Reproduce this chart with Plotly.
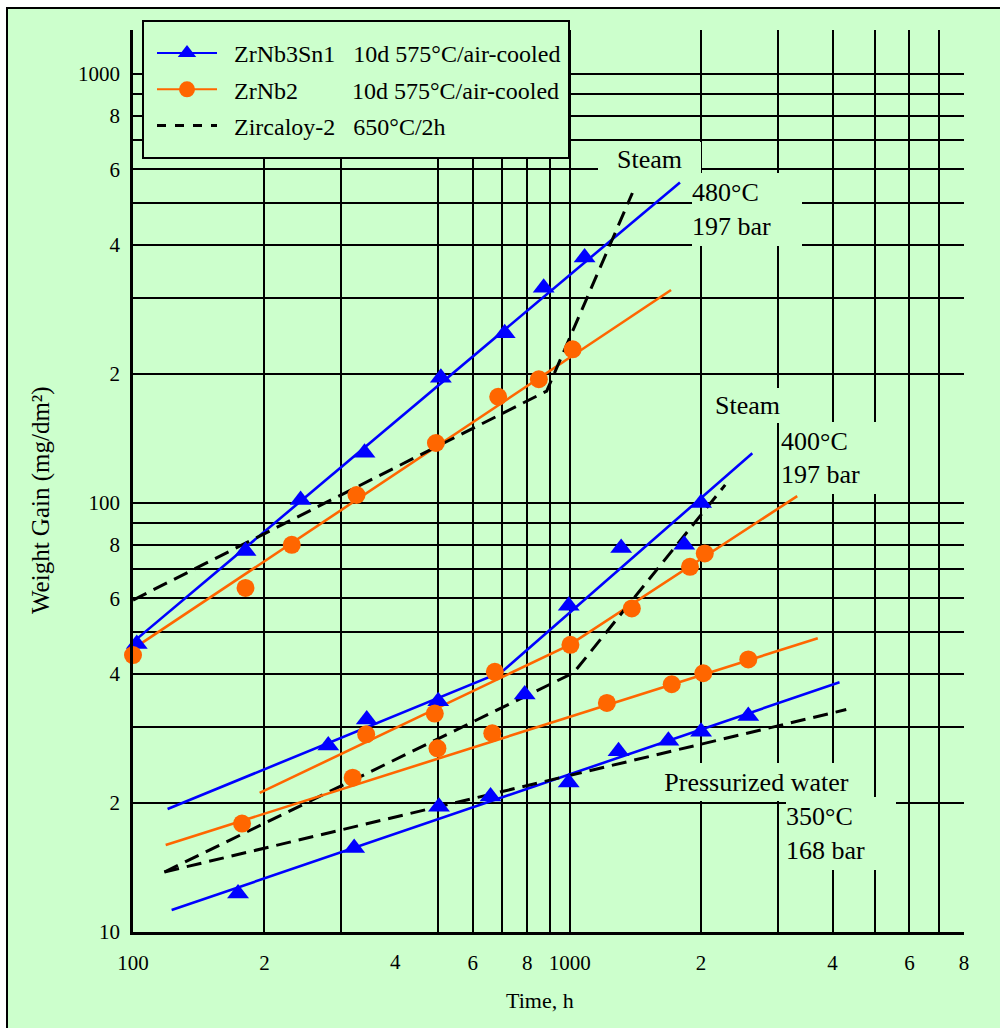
import math
import plotly.graph_objects as go

BG = "#CCFFCC"
BLUE = "#0000FF"
ORANGE = "#FF6600"
FONT = "Liberation Serif"

# ---------------- data (time in h, weight gain in mg/dm2) ----------------
# Steam, 480 °C, 197 bar
t480_zrnb3sn1 = [102, 181, 242, 339, 507, 710, 872, 1082]
w480_zrnb3sn1 = [46.9, 77.3, 101.6, 130.9, 195.8, 248.7, 317.5, 373.6]
t480_zrnb2 = [100, 181, 231, 325, 494, 686, 850, 1016]
w480_zrnb2 = [44.2, 63.4, 79.9, 104.4, 138.0, 176.9, 194.3, 228.2]
fit480_zrnb3sn1_t = [100, 1789]
fit480_zrnb3sn1_w = [47.4, 559]
fit480_zrnb2_t = [100, 1707]
fit480_zrnb2_w = [45.7, 313.7]
zry480_t = [100, 886, 1392]
zry480_w = [59.4, 182.4, 528]

# Steam, 400 °C, 197 bar
t400_zrnb3sn1 = [280, 343, 500, 789, 995, 1312, 1830, 2000]
w400_zrnb3sn1 = [27.2, 31.3, 34.5, 35.8, 57.6, 78.6, 79.9, 100]
t400_zrnb2 = [342, 491, 674, 1004, 1388, 1886, 2039]
w400_zrnb2 = [28.9, 32.3, 40.4, 46.7, 56.8, 71.0, 76.3]
fit400_zrnb3sn1_t = [120, 699, 2620]
fit400_zrnb3sn1_w = [19.35, 40.4, 130.6]
fit400_zrnb2_t = [195, 1000, 3320]
fit400_zrnb2_w = [21.1, 46.7, 103.8]
zry400_t = [118, 1021, 2271]
zry400_w = [13.8, 40.2, 110.2]

# Pressurized water, 350 °C, 168 bar
t350_zrnb3sn1 = [174, 321, 502, 659, 995, 1294, 1683, 2000, 2565]
w350_zrnb3sn1 = [12.3, 15.7, 19.6, 20.7, 22.3, 26.4, 27.9, 29.3, 31.9]
t350_zrnb2 = [177.7, 318.5, 498, 665, 1217, 1713, 2023, 2565]
w350_zrnb2 = [17.9, 22.9, 26.8, 29.06, 34.2, 37.8, 40.1, 43.2]
fit350_zrnb3sn1_t = [122.6, 4150]
fit350_zrnb3sn1_w = [11.25, 38.2]
fit350_zrnb2_t = [118.8, 3700]
fit350_zrnb2_w = [15.95, 48.4]
zry350_t = [118, 4300]
zry350_w = [13.8, 33.0]

# axes: labelled grid lines, unlabelled grid lines
x_tickvals = [100, 200, 600, 800, 1000, 2000, 4000, 6000, 8000]
x_ticktext = ["100", "2", "6", "8", "1000", "2", "4", "6", "8"]
x_minor_grid = [300, 500, 700, 900, 3000, 5000, 7000]
y_tickvals = [10, 20, 40, 60, 80, 100, 200, 400, 600, 800, 1000]
y_ticktext = ["10", "2", "4", "6", "8", "100", "2", "4", "6", "8", "1000"]
y_minor_grid = [30, 50, 70, 90, 300, 500, 700, 900]

NB = "\u00a0"
legend_names = [
    NB * 2 + "ZrNb3Sn1" + NB * 3 + "10d 575°C/air-cooled",
    NB * 2 + "ZrNb2" + NB * 9 + "10d 575°C/air-cooled",
    NB * 2 + "Zircaloy-2" + NB * 3 + "650°C/2h",
]

# ---------------- figure ----------------
W, H = 1000, 1028
ML, MR, MT, MB = 133, 36, 30, 96
PW, PH = W - ML - MR, H - MT - MB


def px(xp):
    return (xp - ML) / PW


def py(yp):
    return (H - MB - yp) / PH


fig = go.Figure()

line_w = 2.6
dash = "15px,8px"

fits = [
    (fit480_zrnb3sn1_t, fit480_zrnb3sn1_w, BLUE, "solid"),
    (fit480_zrnb2_t, fit480_zrnb2_w, ORANGE, "solid"),
    (zry480_t, zry480_w, "black", dash),
    (fit400_zrnb3sn1_t, fit400_zrnb3sn1_w, BLUE, "solid"),
    (fit400_zrnb2_t, fit400_zrnb2_w, ORANGE, "solid"),
    (zry400_t, zry400_w, "black", dash),
    (fit350_zrnb3sn1_t, fit350_zrnb3sn1_w, BLUE, "solid"),
    (fit350_zrnb2_t, fit350_zrnb2_w, ORANGE, "solid"),
    (zry350_t, zry350_w, "black", dash),
]
for xs, ys, col, d in fits:
    fig.add_trace(go.Scatter(
        x=xs, y=ys, mode="lines",
        line=dict(color=col, width=3 if col == "black" else line_w, dash=d),
        showlegend=False, hoverinfo="skip", cliponaxis=False))

points = [
    (t480_zrnb3sn1, w480_zrnb3sn1, BLUE, "triangle-up"),
    (t480_zrnb2, w480_zrnb2, ORANGE, "circle"),
    (t400_zrnb3sn1, w400_zrnb3sn1, BLUE, "triangle-up"),
    (t400_zrnb2, w400_zrnb2, ORANGE, "circle"),
    (t350_zrnb3sn1, w350_zrnb3sn1, BLUE, "triangle-up"),
    (t350_zrnb2, w350_zrnb2, ORANGE, "circle"),
]
for xs, ys, col, sym in points:
    fig.add_trace(go.Scatter(
        x=xs, y=ys, mode="markers",
        marker=dict(color=col, symbol=sym, size=19 if sym == "triangle-up" else 18,
                    line=dict(width=0)),
        showlegend=False, cliponaxis=False))

# legend entries
leg_styles = [
    dict(color=BLUE, symbol="triangle-up", dash="solid", mode="lines+markers"),
    dict(color=ORANGE, symbol="circle", dash="solid", mode="lines+markers"),
    dict(color="black", symbol="circle", dash="dash", mode="lines"),
]
for i, (name, st) in enumerate(zip(legend_names, leg_styles)):
    fig.add_trace(go.Scatter(
        x=[None], y=[None], mode=st["mode"], name=name, legendgroup=str(i),
        line=dict(color=st["color"], width=3 if st["color"] == "black" else 2, dash=st["dash"]),
        marker=dict(color=st["color"], symbol=st["symbol"], size=16)))

shapes = [
    # outer frame
    dict(type="rect", xref="paper", yref="paper", x0=px(7), x1=px(1012), y0=py(1040), y1=py(8),
         fillcolor=BG, line=dict(color="black", width=2), layer="below"),
    # legend box
    dict(type="rect", xref="paper", yref="paper", x0=px(143), x1=px(569), y0=py(158), y1=py(21),
         fillcolor=BG, line=dict(color="black", width=2), layer="above"),
]


def box(text, x0, y0, x1, y1, align="left", size=26):
    return dict(text=text, xref="paper", yref="paper", x=px(x0), y=py(y0),
                xanchor="left", yanchor="top", width=x1 - x0, height=y1 - y0,
                align=align, valign="middle", showarrow=False, bgcolor=BG,
                borderpad=0, borderwidth=0, font=dict(family=FONT, size=size, color="black"))


annotations = [
    box("Steam", 598, 142, 701, 177, align="center"),
    box("480°C<br>197 bar", 692, 173, 802, 246),
    box("Steam", 702, 388, 793, 423, align="center"),
    box("400°C<br>197 bar", 781, 422, 882, 494),
    box("Pressurized water", 650, 763, 863, 801, align="center"),
    box("350°C<br>168 bar", 786, 797, 896, 870),
    # tick label at 400 h (no grid line there in the original)
    dict(text="4", xref="x", yref="paper", x=math.log10(400), y=py(962), xanchor="center",
         yanchor="middle", showarrow=False, font=dict(family=FONT, size=21, color="black")),
    # axis titles
    dict(text="Time, h", xref="paper", yref="paper", x=px(540), y=py(1000), xanchor="center",
         yanchor="middle", showarrow=False, font=dict(family=FONT, size=22, color="black")),
    dict(text="Weight Gain (mg/dm²)", xref="paper", yref="paper", x=px(41), y=py(500),
         xanchor="center", yanchor="middle", textangle=-90, showarrow=False,
         font=dict(family=FONT, size=25, color="black")),
]

grid = dict(showgrid=True, gridcolor="black", gridwidth=1.8)

fig.update_layout(
    width=W, height=H,
    margin=dict(l=ML, r=MR, t=MT, b=MB, pad=0),
    paper_bgcolor="white", plot_bgcolor=BG,
    font=dict(family=FONT, color="black"),
    shapes=shapes, annotations=annotations,
    showlegend=True,
    legend=dict(x=px(152), y=py(31), xanchor="left", yanchor="top",
                bgcolor="rgba(0,0,0,0)", borderwidth=0, itemwidth=60,
                font=dict(family=FONT, size=24, color="black"), tracegroupgap=2),
    xaxis=dict(type="log", range=[2, math.log10(8000)], tickmode="array",
               tickvals=x_tickvals, ticktext=x_ticktext, **grid,
               minor=dict(tickmode="array", tickvals=x_minor_grid, ticks="", **grid),
               showline=True, linecolor="black", linewidth=2.5, ticks="",
               zeroline=False, ticklabelstandoff=10,
               tickfont=dict(family=FONT, size=21, color="black")),
    yaxis=dict(type="log", range=[1, math.log10(1266.6)], tickmode="array",
               tickvals=y_tickvals, ticktext=y_ticktext, **grid,
               minor=dict(tickmode="array", tickvals=y_minor_grid, ticks="", **grid),
               showline=True, linecolor="black", linewidth=2.5, ticks="",
               zeroline=False, ticklabelstandoff=6,
               tickfont=dict(family=FONT, size=21, color="black")),
)

fig.write_html("out.html")
